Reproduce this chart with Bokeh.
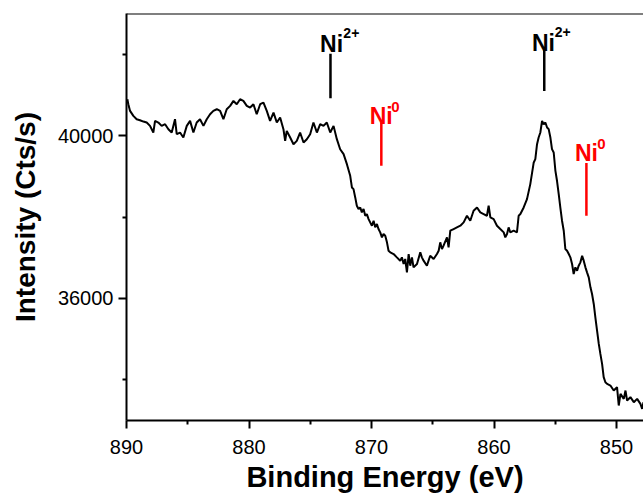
from bokeh.plotting import figure
from bokeh.models import Range1d, FixedTicker, Span
from bokeh.core.properties import value
from bokeh.embed import file_html
from bokeh.resources import INLINE

# Binding energy (eV) and intensity (Cts/s)
energy = [
    889.93, 889.85, 889.71, 889.44, 889.17, 888.90, 888.62, 888.35, 888.08, 887.81,
    887.67, 887.40, 887.13, 886.85, 886.58, 886.31, 886.04, 885.90, 885.63, 885.36,
    885.08, 884.81, 884.54, 884.27, 884.00, 883.72, 883.45, 883.18, 882.91, 882.63,
    882.36, 882.09, 881.82, 881.54, 881.27, 881.00, 880.73, 880.46, 880.18, 879.91,
    879.64, 879.37, 879.09, 878.82, 878.55, 878.28, 878.00, 877.73, 877.46, 877.19,
    877.05, 876.92, 876.64, 876.37, 876.10, 875.83, 875.55, 875.28, 875.01, 874.74,
    874.46, 874.19, 873.92, 873.65, 873.37, 873.10, 872.83, 872.56, 872.28, 872.01,
    871.74, 871.60, 871.47, 871.33, 871.20, 871.06, 870.92, 870.79, 870.65, 870.51,
    870.38, 870.24, 870.11, 869.97, 869.83, 869.70, 869.56, 869.43, 869.29, 869.15,
    869.02, 868.88, 868.74, 868.61, 868.47, 868.20, 867.93, 867.66, 867.52, 867.38,
    867.25, 867.11, 866.97, 866.84, 866.70, 866.57, 866.29, 866.02, 865.89, 865.75,
    865.48, 865.21, 864.93, 864.66, 864.52, 864.39, 864.25, 864.12, 863.84, 863.71,
    863.57, 863.30, 863.03, 862.75, 862.48, 862.21, 861.94, 861.67, 861.39, 861.12,
    860.85, 860.58, 860.44, 860.30, 860.03, 859.76, 859.49, 859.21, 859.08, 858.94,
    858.81, 858.67, 858.40, 858.13, 857.99, 857.85, 857.58, 857.31, 857.04, 856.76,
    856.63, 856.49, 856.36, 856.22, 856.08, 855.95, 855.81, 855.67, 855.54, 855.40,
    855.27, 855.13, 854.99, 854.86, 854.72, 854.59, 854.45, 854.31, 854.18, 854.04,
    853.90, 853.77, 853.63, 853.50, 853.36, 853.22, 853.09, 852.95, 852.81, 852.68,
    852.54, 852.41, 852.27, 852.13, 852.00, 851.86, 851.73, 851.59, 851.45, 851.32,
    851.18, 851.05, 850.91, 850.77, 850.50, 850.23, 849.96, 849.82, 849.68, 849.41,
    849.27, 849.14, 848.87, 848.59, 848.32, 848.05, 847.91, 847.80,
]
intensity = [
    40893, 40771, 40607, 40484, 40403, 40378, 40345, 40321, 40239, 40075,
    40362, 40321, 40239, 40280, 40157, 40075, 40403, 40034, 40075, 39953,
    40239, 40362, 40075, 40321, 40403, 40239, 40403, 40525, 40607, 40648,
    40607, 40403, 40648, 40730, 40852, 40771, 40893, 40852, 40730, 40689,
    40771, 40525, 40771, 40812, 40607, 40362, 40566, 40321, 40443, 40157,
    39871, 40116, 39953, 39789, 39871, 40075, 39830, 39912, 40034, 40321,
    40075, 40280, 40239, 40321, 40075, 40239, 39912, 39666, 39544, 39298,
    39012, 38726, 38685, 38481, 38276, 38195, 38235, 38113, 38195, 38031,
    38072, 37949, 37867, 37786, 37908, 37745, 37826, 37704, 37622, 37499,
    37581, 37540, 37377, 37172, 37131, 37090, 37008, 36927, 37008, 36845,
    36968, 36640, 37090, 36804, 37008, 36763, 36845, 37131, 37008, 36927,
    36804, 37049, 36968, 37090, 37172, 37377, 37213, 37295, 37499, 37254,
    37663, 37704, 37745, 37786, 37867, 38031, 37908, 38154, 38235, 38113,
    38072, 38031, 38276, 37990, 37949, 37786, 37704, 37622, 37499, 37581,
    37745, 37622, 37663, 37622, 38031, 38072, 38235, 38440, 38808, 39340,
    39422, 39790, 39953, 40076, 40362, 40280, 40321, 40199, 40158, 39953,
    39667, 39585, 39135, 38890, 38563, 38235, 37908, 37663, 37213, 37172,
    37090, 37008, 36845, 36600, 36763, 36681, 36804, 36886, 37049, 36927,
    36763, 36640, 36518, 36272, 36109, 35863, 35536, 35209, 34882, 34636,
    34391, 34064, 33941, 33900, 33859, 33736, 33818, 33368, 33655, 33532,
    33736, 33491, 33573, 33450, 33532, 33409, 33287, 33450,
]

# Axis ticks
x_major_ticks = [890, 880, 870, 860, 850]
x_minor_ticks = [885, 875, 865, 855]
y_major_ticks = [36000, 40000]
y_minor_ticks = [34000, 38000, 42000]

# Peak markers (Ni2+ black, Ni0 red)
black_marker_x = [873.35, 855.9]
black_marker_top = [42013, 42161]
black_marker_bottom = [40919, 41098]
red_marker_x = [869.2, 852.46]
red_marker_top = [40320, 39324]
red_marker_bottom = [39258, 38031]

black_label_x = [874.2, 856.9]
black_label_y = [42244, 42276]
black_sup_x = [872.3, 855.05]
black_sup_y = [42521, 42534]
red_label_x = [870.15, 853.4]
red_label_y = [40485, 39577]
red_sup_x = [868.4, 851.58]
red_sup_y = [40706, 39798]

FONT = "Liberation Sans"

p = figure(
    width=643, height=497,
    x_range=Range1d(890, 847.8), y_range=Range1d(33000, 43000),
    output_backend="svg", toolbar_location=None,
    min_border_left=126, min_border_right=0, min_border_top=13, min_border_bottom=77,
    x_axis_label="Binding Energy (eV)", y_axis_label="Intensity (Cts/s)",
)
p.outline_line_color = None
p.xgrid.visible = False
p.ygrid.visible = False
p.background_fill_color = "white"
p.border_fill_color = "white"

p.line(energy, intensity, line_color="black", line_width=2)

p.segment(x0=black_marker_x, y0=black_marker_bottom, x1=black_marker_x, y1=black_marker_top,
          line_color="black", line_width=2.5)
p.segment(x0=red_marker_x, y0=red_marker_bottom, x1=red_marker_x, y1=red_marker_top,
          line_color="#ff0000", line_width=2.5)

p.text(x=black_label_x, y=black_label_y, text=["Ni", "Ni"], text_color="black",
       text_font=value(FONT), text_font_style="bold", text_font_size="23px",
       text_baseline="alphabetic", text_align="left")
p.text(x=black_sup_x, y=black_sup_y, text=["2+", "2+"], text_color="black",
       text_font=value(FONT), text_font_style="bold", text_font_size="14px",
       text_baseline="alphabetic", text_align="left")
p.text(x=red_label_x, y=red_label_y, text=["Ni", "Ni"], text_color="#ff0000",
       text_font=value(FONT), text_font_style="bold", text_font_size="23px",
       text_baseline="alphabetic", text_align="left")
p.text(x=red_sup_x, y=red_sup_y, text=["0", "0"], text_color="#ff0000",
       text_font=value(FONT), text_font_style="bold", text_font_size="15px",
       text_baseline="alphabetic", text_align="left")

# top frame line
p.add_layout(Span(location=43000, dimension="width", line_color="black", line_width=2))

# bottom axis
xa = p.xaxis[0]
xa.ticker = FixedTicker(ticks=x_major_ticks, minor_ticks=x_minor_ticks)
xa.axis_line_width = 2
xa.axis_line_color = "black"
xa.major_tick_line_width = 2
xa.minor_tick_line_width = 2
xa.major_tick_out = 8
xa.major_tick_in = 0
xa.minor_tick_out = 4
xa.minor_tick_in = 0
xa.major_label_text_font = FONT
xa.major_label_text_font_size = "20px"
xa.major_label_text_color = "black"
xa.major_label_standoff = 11
xa.axis_label_text_font = FONT
xa.axis_label_text_font_style = "bold"
xa.axis_label_text_font_size = "29px"
xa.axis_label_text_color = "black"
xa.axis_label_standoff = 4

# left axis
ya = p.yaxis[0]
ya.ticker = FixedTicker(ticks=y_major_ticks, minor_ticks=y_minor_ticks)
ya.axis_line_width = 2
ya.axis_line_color = "black"
ya.major_tick_line_width = 2
ya.minor_tick_line_width = 2
ya.major_tick_out = 8
ya.major_tick_in = 0
ya.minor_tick_out = 4
ya.minor_tick_in = 0
ya.major_label_text_font = FONT
ya.major_label_text_font_size = "20px"
ya.major_label_text_color = "black"
ya.major_label_standoff = 5
ya.axis_label_text_font = FONT
ya.axis_label_text_font_style = "bold"
ya.axis_label_text_font_size = "28px"
ya.axis_label_text_color = "black"
ya.axis_label_standoff = 14

open("out.html", "w").write(file_html(p, INLINE))
